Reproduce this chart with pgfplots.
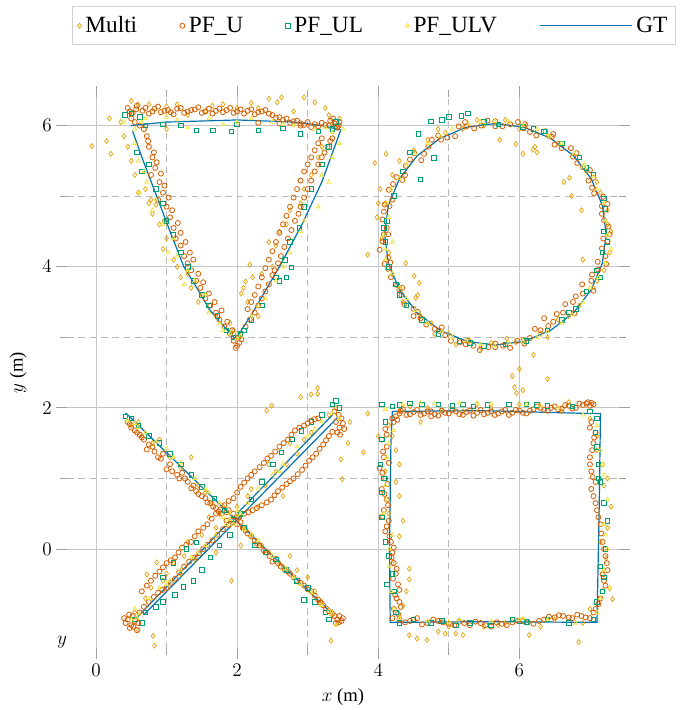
\documentclass[border=0pt]{standalone}
\usepackage{pgfplots}
\pgfplotsset{compat=1.18}
\usepackage{fontspec}
\setmainfont{Liberation Serif}
\definecolor{cMulti}{HTML}{E69F00}
\definecolor{cPFU}{HTML}{D55E00}
\definecolor{cPFUL}{HTML}{009E73}
\definecolor{cPFULV}{HTML}{F0E442}
\definecolor{cGT}{HTML}{0072B2}
\pgfplotsset{
  mklegend/.style={legend image code/.code={\draw[##1] plot coordinates {(0.12cm,0cm)};}},
  gtlegend/.style={legend image code/.code={\draw[##1] (0cm,0cm) -- (2.42cm,0cm);}},
}
\begin{document}
\begin{tikzpicture}
\begin{axis}[
  x=53pt, y=53pt,
  xmin=-0.41, xmax=7.41, ymin=-1.41, ymax=6.41,
  xtick={0,2,4,6}, ytick={0,2,4,6},
  minor tick num=1,
  grid=both,
  major grid style={solid, color=gray!45, line width=0.6pt},
  minor grid style={dash pattern=on 5pt off 3.5pt, color=gray!55, line width=0.6pt},
  axis line style={draw=none},
  tick align=outside,
  major tick length=8pt, minor tick length=5pt,
  tick style={color=gray!75, line width=0.6pt},
  ticklabel style={font=\fontsize{14}{16}\selectfont},
  label style={font=\fontsize{14}{16}\selectfont},
  xlabel={$x$ (m)}, ylabel={$y$ (m)},
  xlabel style={yshift=-2.5pt}, ylabel style={yshift=5pt},
  clip=false,
  legend columns=5,
  legend style={at={(0.556,1.164)}, anchor=north, draw=gray!35, line width=0.8pt,
    font=\fontsize{17.5}{20}\selectfont, inner xsep=4pt, inner ysep=5.5pt,
    /tikz/every odd column/.style={column sep=1pt},
    /tikz/every even column/.style={column sep=30pt}},
]
% Multi
\addplot[only marks, mark=diamond, mark size=1.9pt, color=cMulti, mark options={line width=0.5pt}, mklegend] coordinates {
(-0.06,5.71)(0.15,5.78)(0.21,5.6)(0.19,6.1)(0.5,6.35)(0.75,6.3)(1.0,6.27)(1.3,6.15)(1.55,6.2)(1.8,6.3)(2.0,6.25)(2.2,6.32)(2.45,6.38)(2.57,6.33)(2.63,6.4)(2.95,6.4)(3.1,6.33)(3.25,6.25)(3.45,6.1)(1.0,5.95)
(0.45,5.7)(0.5,5.5)(0.55,5.3)(0.7,5.1)(0.78,4.95)(0.85,4.88)(0.8,4.75)(0.9,4.6)(1.0,4.4)(0.95,4.25)(1.1,4.1)(1.3,3.9)(1.35,3.7)(1.5,3.6)
(1.95,3.1)(2.0,3.05)(1.9,3.2)
(2.06,3.62)(2.09,3.7)(2.12,3.79)(2.22,3.85)(2.18,4.03)(2.45,4.35)(2.6,4.5)(2.75,4.8)(2.95,5.1)(3.05,5.3)(3.15,5.55)(2.5,4.0)(2.35,3.9)
(0.6,6.3)(1.15,6.3)(1.65,6.28)(2.3,6.25)(2.8,6.2)(3.3,6.15)(0.35,6.05)(0.4,5.85)(0.6,5.05)(0.75,4.9)(1.15,4.0)(1.2,3.85)(1.45,3.5)(1.7,3.3)(2.15,3.5)(2.3,3.3)(2.55,4.3)(2.7,4.6)(2.9,4.9)(3.2,5.7)
(7.30,4.50)(7.25,4.80)(7.15,5.05)(6.95,5.35)(6.74,5.00)(6.63,5.20)(6.71,5.26)(6.88,4.80)(6.19,5.66)(6.22,5.70)(5.95,5.74)(5.72,5.80)(6.40,5.85)(6.10,6.00)(5.80,6.08)(5.50,6.00)(5.20,5.95)(4.95,5.90)(4.70,5.80)(4.50,5.65)(4.11,5.60)(3.95,5.47)(4.03,5.10)(4.10,4.90)(3.98,4.70)(4.05,4.40)(3.85,4.17)(4.39,4.05)(4.51,3.87)(4.58,3.77)(4.53,3.56)(4.56,3.60)(4.35,3.50)(4.60,3.30)(4.75,3.20)(5.00,3.05)(5.30,2.95)(5.60,2.92)(5.82,2.98)(5.95,2.93)(6.20,2.75)(6.30,3.05)(6.55,3.25)(6.85,3.45)(7.05,3.70)(7.20,3.95)(7.28,4.20)(6.90,4.10)(5.9,2.45)(6.0,2.55)
(4.2,5.3)(4.3,5.5)(4.0,4.9)(4.15,4.2)(4.2,3.9)(4.8,3.05)(5.1,2.9)(5.45,2.85)(6.4,3.0)(6.7,3.3)(7.1,3.8)(7.25,4.6)(7.1,5.2)(6.55,5.75)(6.0,5.95)(5.4,6.08)(4.85,5.95)(6.05,5.6)(6.25,5.62)
(0.7,-0.7)(0.78,-0.55)(0.86,-0.19)(0.72,-0.36)(0.95,-0.45)(1.1,-0.2)(1.2,-0.35)(1.3,0.1)(1.5,0.2)(1.6,0.45)(1.75,0.5)(2.0,0.6)(2.2,0.85)(2.3,0.6)(2.4,0.9)(2.55,1.1)(2.65,0.75)(2.7,1.2)(2.85,1.35)(2.95,1.55)(3.05,1.65)(2.49,2.03)(2.42,1.96)(2.9,2.15)(3.05,2.19)(3.14,2.28)(3.14,2.2)(3.47,1.27)(3.49,0.99)(3.57,1.5)(3.6,1.8)(0.81,-1.23)(0.83,-1.37)(3.33,-1.3)(1.92,-0.45)(0.5,1.75)(0.65,1.6)(0.9,1.55)(1.2,1.15)(1.35,1.3)(1.55,0.8)(1.8,0.6)(2.1,0.3)(2.35,0.05)(2.6,-0.2)(2.75,-0.1)(2.85,-0.3)(3.0,-0.4)(3.2,-0.75)(1.4,-0.15)(1.7,-0.05)(2.05,0.05)
(0.55,-0.9)(0.6,-1.15)(1.0,-0.35)(1.25,-0.1)(1.7,0.3)(2.15,0.75)(2.45,1.2)(2.75,1.5)(3.3,1.9)(3.4,2.0)(0.6,1.8)(0.8,1.5)(1.05,1.3)(1.45,0.9)(1.65,0.65)(2.2,0.2)(2.45,-0.05)(2.65,-0.25)(3.1,-0.6)(3.35,-0.9)
(3.85,1.92)(3.79,1.37)(4.0,1.6)(4.15,1.75)(4.25,1.4)(4.3,1.2)(4.25,0.95)(4.3,0.75)(4.3,0.18)(4.35,0.4)(4.44,-0.28)(4.44,-0.43)(4.4,-0.6)(4.35,-0.8)(4.44,-1.22)(4.55,-1.27)(4.69,-1.29)(4.85,-1.17)(4.95,-1.2)(5.1,-1.2)(5.2,-1.22)(5.5,-1.1)(5.8,-1.05)(6.14,-1.22)(6.84,-1.32)(6.5,-1.0)(7.0,-0.85)(7.32,-0.71)(7.28,-0.56)(7.23,-0.13)(7.25,0.3)(7.3,0.6)(7.2,0.9)(7.18,1.2)(7.1,1.6)(7.0,1.85)(6.7,2.08)(6.4,2.41)(6.05,2.25)(5.96,2.21)(5.93,2.29)(5.6,2.0)(5.2,1.95)(4.9,1.97)(4.6,1.8)(4.45,2.02)
(4.1,1.1)(4.15,0.5)(4.2,-0.2)(4.3,-0.95)(5.0,-1.1)(5.7,-1.08)(6.3,-1.1)(6.9,-1.05)(7.2,-0.3)(7.15,0.1)(7.25,1.0)(7.1,1.4)(6.6,1.95)(6.0,2.05)(5.4,2.05)(4.7,2.0)(4.3,1.95)(4.2,1.6)
};
\addlegendentry{Multi}
% PF_U
\addplot[only marks, mark=o, mark size=1.9pt, color=cPFU, mark options={line width=0.6pt}, mklegend] coordinates {
(0.45,6.25)(0.52,6.18)(0.58,6.28)(0.66,6.21)(0.75,6.17)(0.83,6.24)(0.92,6.19)(1.02,6.22)(1.1,6.16)(1.2,6.25)(1.3,6.2)(1.4,6.23)(1.5,6.18)(1.6,6.24)(1.7,6.21)(1.8,6.19)(1.9,6.25)(2.0,6.2)(2.1,6.17)(2.2,6.23)(2.3,6.19)(2.4,6.22)(2.5,6.15)(2.6,6.12)(2.7,6.1)(2.8,6.06)(2.9,6.03)(3.0,6.05)(3.1,6.02)(3.2,6.04)(3.3,6.0)(3.38,6.03)(3.42,5.97)(3.35,5.95)(3.45,6.05)
(2.3,6.04)(2.6,6.03)(2.9,6.0)(3.15,5.99)(0.5,6.1)(0.55,6.05)(0.62,6.0)(0.68,5.95)
(0.48,6.2)(0.57,6.23)(0.7,6.25)(0.8,6.2)(0.88,6.27)(0.97,6.21)(1.06,6.19)(1.15,6.24)(1.25,6.18)(1.35,6.22)(1.45,6.26)(1.55,6.2)(1.65,6.17)(1.75,6.24)(1.85,6.22)(1.95,6.18)(2.05,6.23)(2.15,6.21)(2.25,6.16)(2.35,6.2)(2.45,6.17)(2.55,6.11)(2.65,6.08)(2.75,6.04)(2.85,6.07)(2.95,6.01)(3.05,5.98)(3.25,6.01)(3.32,6.07)(3.4,5.99)(3.36,6.1)(3.44,6.0)
(0.72,5.85)(0.75,5.7)(0.8,5.55)(0.84,5.4)(0.78,5.3)(0.9,5.2)(0.95,5.05)(0.88,4.95)(1.0,4.85)(1.05,4.7)(0.98,4.65)(1.1,4.55)(1.13,4.4)(1.2,4.3)(1.25,4.15)(1.3,4.05)(1.35,3.95)(1.42,3.8)(1.48,3.7)(1.55,3.55)(1.62,3.45)(1.7,3.35)(1.75,3.25)(1.82,3.15)(1.9,3.05)
(0.74,5.78)(0.82,5.62)(0.86,5.48)(0.92,5.32)(0.97,5.15)(1.03,4.98)(1.08,4.8)(1.16,4.62)(1.2,4.48)(1.27,4.35)(1.33,4.2)(1.38,4.1)(1.45,3.9)(1.52,3.78)(1.6,3.62)(1.68,3.5)(1.78,3.38)(1.86,3.22)(1.93,3.1)
(1.95,2.95)(2.0,2.88)(2.03,2.92)(1.98,2.85)(2.06,2.97)(2.02,3.0)
(2.12,3.15)(2.25,3.35)(2.35,3.55)(2.45,3.75)(2.53,3.95)(2.62,4.15)(2.72,4.4)(2.82,4.65)(2.9,4.85)(3.0,5.1)(3.1,5.35)(3.2,5.55)(3.28,5.7)(3.35,5.82)
(2.15,3.4)(2.25,3.6)(2.35,3.85)(2.45,4.1)(2.55,4.35)(2.65,4.6)(2.75,4.85)(2.85,5.1)(2.95,5.35)(3.05,5.55)(3.15,5.75)
(2.18,3.25)(2.3,3.45)(2.4,3.65)(2.5,3.88)(2.58,4.05)(2.67,4.28)(2.77,4.52)(2.87,4.75)(2.95,4.98)(3.05,5.22)(3.15,5.45)(3.24,5.62)(3.32,5.78)(2.2,3.5)(2.3,3.72)(2.4,3.98)(2.5,4.22)(2.6,4.48)(2.7,4.72)(2.8,4.98)(2.9,5.22)(3.0,5.45)(3.1,5.65)(3.2,5.82)
(7.28,4.46)(7.20,4.66)(7.25,4.89)(7.06,5.04)(7.05,5.26)(6.90,5.41)(6.81,5.61)(6.60,5.68)(6.46,5.84)(6.24,5.86)(6.08,6.02)(5.87,6.02)(5.66,6.06)(5.46,6.00)(5.25,5.99)(5.09,5.85)(4.85,5.86)(4.71,5.70)(4.61,5.51)(4.39,5.43)(4.34,5.23)(4.15,5.09)(4.16,4.86)(4.06,4.67)(4.08,4.46)(4.02,4.24)(4.17,4.06)(4.18,3.85)(4.30,3.68)(4.37,3.47)(4.56,3.36)(4.68,3.18)(4.87,3.09)(5.03,2.95)(5.26,2.95)(5.44,2.82)(5.66,2.86)(5.87,2.85)(6.06,2.96)(6.22,3.12)(6.41,3.16)(6.53,3.33)(6.78,3.34)(6.80,3.58)(7.05,3.66)(7.03,3.89)(7.23,4.04)(7.17,4.26)
(7.19,4.40)(7.17,4.86)(6.98,5.22)(6.76,5.56)(6.48,5.88)(6.06,5.96)(5.66,5.99)(5.23,6.05)(4.89,5.80)(4.51,5.61)(4.26,5.27)(4.09,4.88)(4.14,4.46)(4.09,4.04)(4.34,3.70)(4.50,3.30)(4.90,3.14)(5.24,2.90)(5.66,2.91)(6.07,2.91)(6.35,3.27)(6.65,3.47)(6.89,3.75)(7.11,4.07)
(7.26,4.57)(7.17,4.75)(7.19,4.99)(7.03,5.12)(7.0,5.37)(6.82,5.47)(6.73,5.68)(6.50,5.73)(6.37,5.92)(6.15,5.91)(5.98,6.05)(5.76,5.99)(5.55,6.07)(5.36,5.96)(5.14,5.99)(4.98,5.83)(4.76,5.80)(4.65,5.60)(4.45,5.52)(4.38,5.30)(4.21,5.17)(4.20,4.95)(4.08,4.78)(4.12,4.55)
(4.06,4.36)(4.14,4.13)(4.14,3.97)(4.27,3.74)(4.33,3.60)(4.50,3.40)(4.60,3.27)(4.80,3.12)(4.95,3.03)(5.16,2.93)(5.35,2.88)(5.56,2.86)(5.77,2.88)(5.97,2.95)(6.15,2.99)(6.30,3.10)(6.48,3.22)(6.62,3.35)(6.76,3.50)(6.90,3.62)(7.02,3.80)(7.12,3.96)(7.22,4.15)(7.25,4.36)
(0.65,-0.6)(0.78,-0.45)(0.9,-0.32)(1.0,-0.2)(1.12,-0.12)(1.22,0.02)(1.35,0.1)(1.45,0.25)(1.58,0.35)(1.7,0.5)(1.82,0.62)(1.95,0.72)(2.05,0.88)(2.15,1.0)(2.25,1.1)(2.38,1.22)(2.48,1.32)(2.6,1.45)(2.72,1.55)(2.82,1.68)(2.95,1.75)(3.05,1.82)(3.15,1.85)
(0.72,-0.52)(0.84,-0.38)(0.95,-0.26)(1.06,-0.16)(1.17,-0.05)(1.28,0.06)(1.4,0.18)(1.52,0.3)(1.64,0.43)(1.76,0.56)(1.88,0.68)(2.0,0.8)(2.1,0.94)(2.2,1.05)(2.32,1.16)(2.43,1.28)(2.54,1.38)(2.66,1.5)(2.77,1.62)(2.88,1.72)(3.0,1.78)(3.1,1.84)
(0.62,-0.9)(0.75,-0.75)(0.88,-0.62)(1.0,-0.55)(1.12,-0.42)(1.25,-0.25)(1.4,-0.12)(1.52,0.0)(1.65,0.12)(1.8,0.28)(1.95,0.4)(2.1,0.5)(2.22,0.55)(2.35,0.62)(2.48,0.7)(2.58,0.82)(2.7,0.92)(2.8,1.0)(2.92,1.12)(3.02,1.25)(3.12,1.35)(3.22,1.48)(3.3,1.6)
(0.68,-0.82)(0.82,-0.68)(0.94,-0.58)(1.06,-0.48)(1.18,-0.33)(1.32,-0.18)(1.46,-0.06)(1.58,0.06)(1.72,0.2)(1.88,0.34)(2.03,0.45)(2.16,0.52)(2.28,0.58)(2.42,0.66)(2.53,0.76)(2.64,0.87)(2.75,0.96)(2.86,1.06)(2.97,1.18)(3.07,1.3)(3.17,1.42)(3.26,1.54)(3.35,1.66)
(0.45,-1.0)(0.5,-1.08)(0.55,-1.02)(0.48,-1.12)(0.6,-1.05)(0.4,-0.98)(0.52,-0.95)(0.58,-1.15)(0.42,-1.05)(0.53,-1.1)(0.47,-0.93)
(3.4,1.8)(3.45,1.72)(3.5,1.78)(3.42,1.65)(3.48,1.85)(3.38,1.95)(3.44,1.9)(3.52,1.7)(3.46,1.62)
(0.45,1.8)(0.5,1.72)(0.55,1.68)(0.62,1.62)(0.68,1.55)(0.72,1.41)(0.8,1.45)(0.88,1.3)(0.95,1.35)(1.0,1.13)(1.05,1.2)(1.15,1.05)(1.22,1.08)(1.3,0.95)(1.38,0.9)(1.45,0.78)(1.55,0.72)(1.62,0.65)(1.7,0.58)(1.78,0.5)(1.85,0.52)(1.92,0.42)(2.0,0.35)(2.08,0.3)(2.15,0.22)(2.25,0.12)(2.32,0.05)(2.42,-0.05)(2.5,-0.18)(2.58,-0.2)(2.68,-0.3)(2.75,-0.35)(2.85,-0.45)(2.95,-0.52)(3.05,-0.6)(3.15,-0.72)(3.22,-0.8)(3.3,-0.88)(3.38,-0.95)(3.42,-1.0)(3.45,-0.95)(3.4,-1.05)(3.48,-1.02)(3.5,-0.98)(3.44,-1.04)
(0.48,1.77)(0.58,1.65)(0.65,1.58)(0.75,1.48)(0.83,1.38)(0.92,1.28)(1.08,1.1)(1.18,1.0)(1.26,1.0)(1.35,0.86)(1.42,0.82)(1.5,0.75)(1.58,0.66)(1.66,0.6)(1.74,0.53)(2.12,0.26)(2.2,0.18)(2.28,0.08)(2.38,-0.02)(2.46,-0.1)(2.55,-0.14)(2.62,-0.25)(2.72,-0.32)(2.8,-0.4)(2.9,-0.48)(3.0,-0.57)(3.1,-0.66)(3.18,-0.76)(3.26,-0.84)(3.35,-0.92)
(1.85,0.4)(1.95,0.5)(2.02,0.45)(1.88,0.55)(2.05,0.38)
(4.3,1.92)(4.4,1.9)(4.5,1.94)(4.6,1.9)(4.7,1.95)(4.8,1.91)(4.9,1.96)(5.0,1.92)(5.1,1.95)(5.2,1.9)(5.3,1.96)(5.4,1.93)(5.5,1.91)(5.6,1.95)(5.7,1.92)(5.8,1.97)(5.9,1.93)(6.0,1.96)(6.1,1.92)(6.2,1.98)(6.3,2.0)(6.4,1.96)(6.5,2.02)(6.6,1.99)(6.7,2.03)(6.8,2.0)(6.9,2.04)(6.95,2.06)(7.0,2.03)(7.05,2.05)(4.35,1.98)(4.75,1.88)(5.35,1.89)(5.85,1.9)
(4.32,1.96)(4.45,1.91)(4.55,1.97)(4.65,1.92)(4.75,1.95)(4.85,1.89)(4.95,1.93)(5.05,1.97)(5.15,1.91)(5.25,1.94)(5.45,1.97)(5.55,1.93)(5.65,1.9)(5.75,1.95)(5.95,1.97)(6.05,1.93)(6.15,1.96)(6.25,2.02)(6.35,1.97)(6.45,2.0)(6.55,1.98)(6.65,2.04)(6.75,1.99)(6.85,2.06)(6.97,2.08)(7.02,2.07)
(4.2,1.85)(4.25,1.88)(4.22,1.8)(4.27,1.83)
(4.1,1.7)(4.05,1.55)(4.12,1.45)(4.08,1.3)(4.02,1.15)(4.1,1.0)(4.05,0.85)(4.12,0.7)(4.08,0.55)(4.15,0.4)(4.1,0.25)(4.18,0.1)(4.2,-0.05)(4.22,-0.2)(4.25,-0.35)(4.28,-0.5)(4.24,-0.65)(4.3,-0.75)(4.22,-0.85)(4.28,-0.92)(4.2,-0.98)
(4.12,1.62)(4.07,1.38)(4.15,1.22)(4.06,1.08)(4.13,0.92)(4.09,0.78)(4.14,0.62)(4.06,0.46)(4.12,0.32)(4.16,0.18)(4.22,0.02)(4.19,-0.12)(4.26,-0.28)(4.21,-0.42)(4.3,-0.58)(4.26,-0.7)(4.32,-0.82)
(4.3,-1.0)(4.45,-1.02)(4.55,-0.98)(4.7,-1.05)(4.85,-1.02)(5.0,-1.06)(5.15,-1.03)(5.3,-1.08)(5.45,-1.05)(5.6,-1.1)(5.75,-1.06)(5.9,-1.04)(6.05,-1.02)(6.2,-1.06)(6.35,-1.0)(6.5,-0.97)(6.62,-0.95)(6.75,-0.98)(6.88,-0.95)(7.0,-0.98)
(4.38,-1.04)(4.5,-1.0)(4.62,-1.07)(4.78,-1.0)(4.92,-1.04)(5.08,-1.08)(5.22,-1.05)(5.38,-1.03)(5.52,-1.08)(5.68,-1.04)(5.82,-1.08)(5.98,-1.02)(6.12,-1.04)(6.28,-1.02)(6.42,-0.96)(6.56,-0.94)(6.7,-0.97)(6.82,-0.93)(6.94,-0.97)
(7.05,-0.9)(7.12,-0.78)(7.18,-0.6)(7.2,-0.45)(7.25,-0.3)(7.22,-0.1)(7.18,0.1)(7.15,0.35)(7.1,0.55)(7.05,0.75)(7.08,0.95)(7.02,1.1)(7.0,1.3)(7.05,1.5)(7.08,1.65)(7.02,1.8)
(7.08,-0.85)(7.15,-0.7)(7.22,-0.52)(7.18,-0.36)(7.24,-0.2)(7.2,0.0)(7.16,0.22)(7.12,0.45)(7.08,0.65)(7.02,0.85)(7.04,1.02)(7.0,1.2)(7.03,1.4)(7.06,1.58)(7.0,1.72)
};
\addlegendentry{PF\_U}
% PF_UL
\addplot[only marks, mark=square, mark size=1.7pt, color=cPFUL, mark options={line width=0.6pt}, mklegend] coordinates {
(0.41,6.15)(0.5,6.17)(0.62,6.12)(0.7,6.0)(0.95,6.02)(1.2,6.0)(1.42,5.93)(1.66,5.93)(1.92,5.92)(2.0,6.02)(2.3,5.93)(2.65,5.96)(2.9,5.88)(3.15,5.92)(3.35,5.95)(3.4,6.05)
(0.58,5.62)(0.65,5.35)(0.75,5.45)(0.85,5.1)(0.95,4.9)(1.0,4.65)(1.1,4.45)(1.2,4.2)(1.3,4.0)(1.38,3.8)(1.5,3.6)(1.6,3.45)(1.72,3.3)(1.85,3.1)
(1.95,3.0)(2.05,3.05)(2.1,3.1)
(2.2,3.25)(2.35,3.45)(2.55,3.85)(2.68,4.1)(2.6,3.8)(2.75,4.35)(2.88,4.55)(2.95,4.85)(3.05,5.1)(3.2,5.45)(3.3,5.7)(2.77,3.99)(2.70,3.85)
(7.20,4.50)(7.22,4.82)(7.20,4.97)(7.05,5.30)(6.85,5.55)(6.60,5.75)(6.35,5.92)(6.05,5.98)(5.70,6.02)(5.50,6.05)(5.27,6.17)(5.18,6.14)(5.0,6.12)(4.9,6.08)(4.75,6.06)(4.57,5.88)(4.45,5.62)(4.79,5.54)(4.60,5.24)(4.35,5.35)(4.22,5.00)(4.12,4.65)(4.10,4.35)(4.15,4.00)(4.25,3.75)(4.40,3.45)(4.62,3.25)(4.85,3.05)(5.15,2.95)(5.50,2.88)(5.80,2.90)(6.10,2.95)(6.40,3.10)(6.60,3.25)(6.80,3.40)(6.95,3.65)(7.10,3.95)(7.18,4.20)(7.25,4.35)
(7.15,3.85)(6.7,3.35)(5.3,2.92)(4.3,3.6)(4.08,4.55)(6.2,5.95)(6.95,5.4)
(0.55,-1.0)(0.65,-1.05)(0.7,-0.9)(0.85,-0.82)(0.95,-0.75)(1.12,-0.65)(1.24,-0.54)(1.38,-0.45)(1.5,-0.3)(1.62,-0.12)(1.75,0.05)(1.9,0.2)(2.05,0.5)(2.2,0.7)(2.35,0.95)(2.51,1.2)(2.63,1.37)(2.78,1.55)(2.91,1.67)(3.05,1.8)(3.2,1.9)(3.35,2.05)(3.4,2.1)(3.45,2.0)(1.28,0.0)(1.42,0.09)(1.1,-0.2)(0.95,-0.4)
(0.42,1.88)(0.5,1.85)(0.6,1.75)(0.75,1.6)(0.9,1.5)(1.05,1.35)(1.2,1.2)(1.35,1.05)(1.5,0.88)(1.68,0.72)(1.82,0.55)(1.95,0.42)(2.1,0.3)(2.25,0.05)(2.4,-0.05)(2.55,-0.15)(2.7,-0.3)(2.85,-0.45)(3.0,-0.55)(3.1,-0.75)(3.25,-0.9)(3.3,-1.0)(2.95,-0.72)
(4.05,2.05)(4.2,2.02)(4.45,2.06)(4.62,2.05)(4.85,2.05)(5.05,2.03)(5.35,2.02)(5.55,2.04)(5.85,2.05)(6.1,2.05)(6.4,2.03)(6.75,2.02)(7.0,1.95)(7.1,1.85)(7.08,1.65)(7.1,1.45)(7.12,1.2)(7.15,0.95)(7.2,0.65)(7.25,0.4)(7.22,0.0)(7.15,-0.25)(7.2,-0.4)(7.1,-0.75)(7.05,-1.0)(6.7,-1.05)(6.4,-1.0)(6.1,-1.03)(5.9,-1.0)(5.6,-1.08)(5.3,-1.05)(5.1,-1.08)(4.75,-1.05)(4.5,-1.0)(4.3,-1.05)(4.25,-0.9)(4.22,-0.6)(4.2,-0.35)(4.15,-0.1)(4.1,0.1)(4.05,0.45)(4.05,0.8)(4.03,1.2)(4.05,1.55)(4.1,1.8)
(4.3,2.04)(5.2,2.05)(6.25,2.04)(7.12,1.0)(7.18,-0.6)(6.0,-1.02)(4.9,-1.02)(4.12,-0.5)(4.08,1.0)
};
\addlegendentry{PF\_UL}
% PF_ULV
\addplot[only marks, mark=triangle, mark size=1.7pt, color=cPFULV, mark options={line width=0.6pt}, mklegend] coordinates {
(0.4,6.05)(0.55,5.95)(0.7,6.1)(1.0,6.12)(1.3,5.97)(1.6,6.1)(2.0,6.05)(2.2,6.1)(2.5,6.05)(2.8,6.0)(3.1,5.95)(3.35,5.9)(3.5,5.95)
(0.55,5.75)(0.6,5.5)(0.72,5.2)(0.62,5.05)(0.85,4.95)(0.95,4.6)(1.1,4.4)(1.02,4.2)(1.3,3.95)(1.25,3.75)(1.55,3.6)(1.6,3.35)(1.75,3.2)(1.9,3.05)
(2.0,2.98)(2.05,3.02)
(2.2,3.3)(2.4,3.55)(2.55,3.8)(2.75,4.2)(2.9,4.5)(3.15,4.85)(3.2,5.3)(3.35,5.55)(3.45,5.75)
(0.65,6.05)(1.15,6.08)(1.8,6.02)(2.65,6.02)(3.25,5.97)(0.68,5.35)(0.8,4.8)(1.15,4.15)(1.4,3.8)(1.8,3.1)(2.3,3.45)(2.65,4.0)(2.95,4.65)(3.3,5.2)
(7.25,4.45)(7.20,4.90)(7.05,5.28)(6.78,5.60)(6.43,5.85)(6.05,6.00)(5.65,6.06)(5.28,6.02)(4.88,5.85)(4.52,5.60)(4.30,5.25)(4.12,4.90)(4.08,4.45)(4.10,4.10)(4.30,3.70)(4.52,3.38)(4.90,3.08)(5.25,2.95)(5.65,2.88)(6.05,2.95)(6.40,3.08)(6.75,3.32)(7.00,3.70)(7.22,4.05)(7.30,4.25)(4.15,4.7)(4.2,4.35)(6.9,5.42)(5.45,6.05)(6.6,3.2)
(7.22,4.65)(7.1,5.1)(6.92,5.45)(6.6,5.75)(6.25,5.95)(5.85,6.05)(5.05,5.95)(4.7,5.75)(4.4,5.45)(4.18,5.1)(4.1,4.25)(4.2,3.9)(4.4,3.55)(4.7,3.2)(5.05,3.0)(5.45,2.9)(5.85,2.92)(6.25,3.0)(6.9,3.5)(7.12,3.85)
(0.5,-1.0)(0.62,-0.92)(0.75,-0.7)(0.9,-0.55)(1.05,-0.45)(1.2,-0.3)(1.35,-0.12)(1.55,0.05)(1.7,0.2)(1.85,0.35)(2.0,0.55)(2.15,0.65)(2.3,0.85)(2.5,1.05)(2.65,1.2)(2.85,1.45)(3.0,1.6)(3.2,1.8)(3.35,1.92)(3.45,1.85)(0.55,-0.85)
(0.45,1.82)(0.55,1.78)(0.7,1.65)(0.85,1.52)(1.0,1.42)(1.2,1.22)(1.4,1.0)(1.55,0.85)(1.75,0.65)(1.9,0.5)(2.1,0.28)(2.3,0.12)(2.5,-0.1)(2.7,-0.28)(2.9,-0.5)(3.05,-0.62)(3.2,-0.8)(3.35,-0.92)(3.4,-1.08)(1.8,0.45)(1.95,0.35)
(0.58,-0.98)(1.0,-0.5)(1.45,-0.05)(2.05,0.5)(2.6,1.1)(3.1,1.7)(0.6,1.72)(1.1,1.3)(1.6,0.8)(2.2,0.2)(2.8,-0.4)(3.3,-0.88)(1.9,0.42)(2.0,0.48)
(4.1,1.98)(4.35,2.05)(4.8,2.06)(5.15,2.07)(5.6,2.06)(6.1,2.05)(6.55,2.0)(6.9,1.9)(7.1,1.75)(7.15,1.4)(7.2,1.05)(7.25,0.7)(7.2,0.35)(7.25,0.0)(7.2,-0.3)(7.28,-0.55)(7.1,-0.9)(6.8,-1.05)(6.4,-1.0)(6.05,-0.98)(5.6,-1.02)(5.15,-1.0)(4.7,-1.02)(4.3,-0.98)(4.18,-0.6)(4.15,-0.25)(4.2,0.2)(4.08,0.5)(4.1,0.9)(4.12,1.3)(4.22,1.68)
(4.6,2.07)(5.4,2.07)(6.3,2.03)(7.18,1.2)(7.22,0.2)(7.15,-0.7)(6.0,-1.0)(5.0,-1.03)(4.22,-0.85)(4.16,0.0)(4.12,0.7)(4.15,1.5)
};
\addlegendentry{PF\_ULV}
% GT
\addplot[color=cGT, line width=0.9pt, gtlegend] coordinates {
(0.49,6.0)(1.0,6.05)(2.0,6.08)(2.8,6.05)(3.2,6.0)(3.47,5.94)
(3.2,5.2)(2.92,4.6)(2.6,4.0)(2.25,3.4)(1.98,2.97)
(1.80,3.17)(1.61,3.39)(1.43,3.7)(1.245,4.0)(1.05,4.5)(0.86,5.0)(0.67,5.5)(0.52,5.92)
};
\addlegendentry{GT}
\addplot[color=cGT, line width=0.9pt, forget plot] coordinates {
(7.23,4.46)(7.177,4.867)(7.02,5.245)(6.77,5.57)(6.445,5.82)(6.067,5.977)(5.66,6.03)(5.253,5.977)(4.875,5.82)(4.55,5.57)(4.30,5.245)(4.143,4.867)(4.09,4.46)(4.143,4.053)(4.30,3.675)(4.55,3.35)(4.875,3.10)(5.253,2.943)(5.66,2.89)(6.067,2.943)(6.445,3.10)(6.77,3.35)(7.02,3.675)(7.177,4.053)(7.23,4.46)
};
\addplot[color=cGT, line width=0.9pt, forget plot] coordinates {(0.42,1.93)(3.38,-0.95)};
\addplot[color=cGT, line width=0.9pt, forget plot] coordinates {(0.58,-0.97)(3.38,1.93)};
\addplot[color=cGT, line width=0.9pt, forget plot] coordinates {(3.42,1.86)(0.68,-0.93)};
\addplot[color=cGT, line width=0.9pt, forget plot] coordinates {
(4.2,1.95)(5.5,1.96)(6.99,1.92)(7.15,1.92)(7.13,0.5)(7.1,-1.04)(5.5,-1.03)(4.17,-1.04)(4.16,0.0)(4.18,1.5)(4.2,1.95)
};
\node[font=\fontsize{14}{16}\selectfont] at (axis cs:-0.48,-1.32) {$y$};
\coordinate (tr) at (axis cs:8.43,7.78);
\coordinate (bl) at (axis cs:-1.36,-2.26);
\end{axis}
\path (tr) (bl);
\end{tikzpicture}
\end{document}
